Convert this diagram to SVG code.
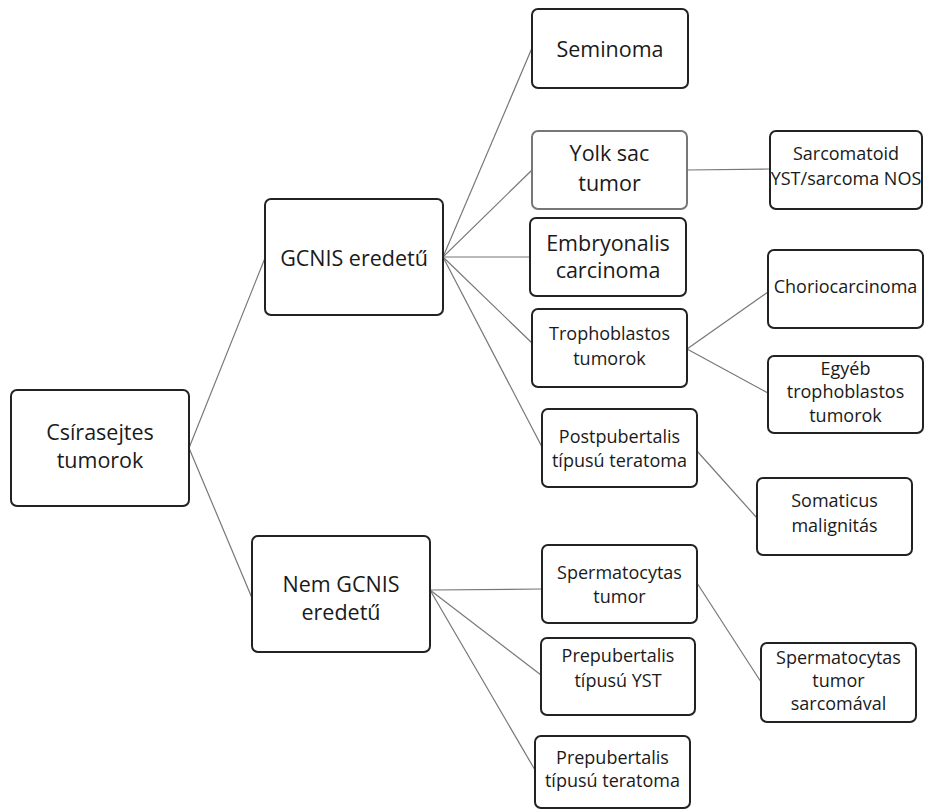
<svg xmlns="http://www.w3.org/2000/svg" width="925" height="811" viewBox="0 0 925 811">
<style>
.box{fill:#fff;stroke:#222;stroke-width:2}
.grey{stroke:#777}
.t{font-family:"Open Sans","Noto Sans","DejaVu Sans",sans-serif;fill:#1a1a1a;text-anchor:middle}
.big{font-size:21.5px}
.sm{font-size:18px}
.con line{stroke:#777;stroke-width:1.2}
</style>
<rect width="925" height="811" fill="#fff"/>
<g id="connectors" class="con">
<line x1="189" y1="448" x2="265" y2="258"/>
<line x1="189" y1="448" x2="252" y2="598"/>
<line x1="443" y1="257" x2="532" y2="48"/>
<line x1="443" y1="257" x2="532" y2="170"/>
<line x1="443" y1="257" x2="530" y2="257"/>
<line x1="443" y1="257" x2="532" y2="343"/>
<line x1="443" y1="257" x2="542" y2="447"/>
<line x1="687" y1="170" x2="770" y2="169"/>
<line x1="687" y1="349" x2="768" y2="292"/>
<line x1="687" y1="349" x2="768" y2="393"/>
<line x1="697" y1="451" x2="757" y2="518"/>
<line x1="430" y1="590" x2="542" y2="589"/>
<line x1="430" y1="590" x2="541" y2="675"/>
<line x1="430" y1="590" x2="535" y2="770"/>
<line x1="697" y1="583" x2="761" y2="682"/>
</g>
<g id="n-csira"><rect class="box" x="11" y="390" width="178" height="116" rx="6"/><text class="t big" x="100" y="440">Csírasejtes</text><text class="t big" x="100" y="468">tumorok</text></g>
<g id="n-gcnis"><rect class="box" x="265" y="199" width="178" height="116" rx="6"/><text class="t big" x="354" y="266">GCNIS eredetű</text></g>
<g id="n-nemgcnis"><rect class="box" x="252" y="536" width="178" height="116" rx="6"/><text class="t big" x="341" y="592">Nem GCNIS</text><text class="t big" x="341" y="620">eredetű</text></g>
<g id="n-seminoma"><rect class="box" x="532" y="9" width="156" height="79" rx="6"/><text class="t big" x="610" y="57">Seminoma</text></g>
<g id="n-yolk"><rect class="box grey" x="532" y="131" width="155" height="78" rx="6"/><text class="t big" x="609.5" y="161">Yolk sac</text><text class="t big" x="609.5" y="191">tumor</text></g>
<g id="n-sarcomatoid"><rect class="box" x="770" y="131" width="152" height="78" rx="6"/><text class="t sm" x="846" y="160">Sarcomatoid</text><text class="t sm" x="846" y="185">YST/sarcoma NOS</text></g>
<g id="n-embryonalis"><rect class="box" x="530" y="218" width="156" height="78" rx="6"/><text class="t big" x="608" y="251">Embryonalis</text><text class="t big" x="608" y="278">carcinoma</text></g>
<g id="n-tropho"><rect class="box" x="532" y="309" width="155" height="78" rx="6"/><text class="t sm" x="609.5" y="340">Trophoblastos</text><text class="t sm" x="609.5" y="365">tumorok</text></g>
<g id="n-chorio"><rect class="box" x="768" y="250" width="155" height="78" rx="6"/><text class="t sm" x="845.5" y="293">Choriocarcinoma</text></g>
<g id="n-egyeb"><rect class="box" x="768" y="356" width="155" height="77" rx="6"/><text class="t sm" x="845.5" y="375">Egyéb</text><text class="t sm" x="845.5" y="398">trophoblastos</text><text class="t sm" x="845.5" y="422">tumorok</text></g>
<g id="n-postpub"><rect class="box" x="542" y="409" width="155" height="78" rx="6"/><text class="t sm" x="619.5" y="443">Postpubertalis</text><text class="t sm" x="619.5" y="467">típusú teratoma</text></g>
<g id="n-somaticus"><rect class="box" x="757" y="478" width="155" height="77" rx="6"/><text class="t sm" x="834.5" y="507">Somaticus</text><text class="t sm" x="834.5" y="532">malignitás</text></g>
<g id="n-sperm"><rect class="box" x="542" y="545" width="155" height="78" rx="6"/><text class="t sm" x="619.5" y="579">Spermatocytas</text><text class="t sm" x="619.5" y="603">tumor</text></g>
<g id="n-prepubyst"><rect class="box" x="541" y="638" width="154" height="77" rx="6"/><text class="t sm" x="618" y="662">Prepubertalis</text><text class="t sm" x="618" y="687">típusú YST</text></g>
<g id="n-prepubter"><rect class="box" x="535" y="736" width="155" height="72" rx="6"/><text class="t sm" x="612.5" y="764">Prepubertalis</text><text class="t sm" x="612.5" y="787">típusú teratoma</text></g>
<g id="n-spermsarc"><rect class="box" x="761" y="643" width="155" height="79" rx="6"/><text class="t sm" x="838.5" y="664">Spermatocytas</text><text class="t sm" x="838.5" y="687">tumor</text><text class="t sm" x="838.5" y="710">sarcomával</text></g>
</svg>
